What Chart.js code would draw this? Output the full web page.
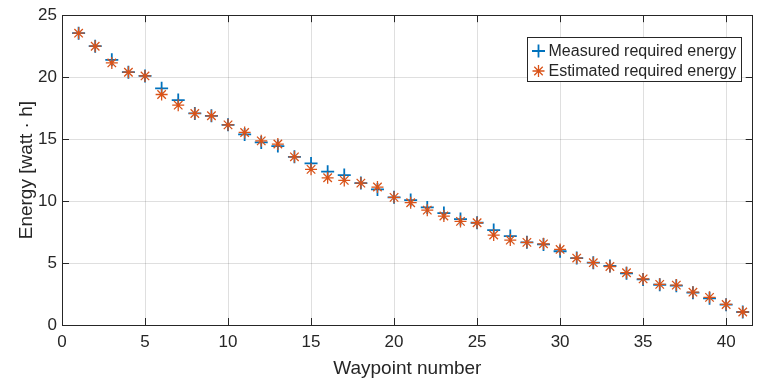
<!DOCTYPE html>
<html>
<head>
<meta charset="utf-8">
<style>
  html, body { margin: 0; padding: 0; background: #ffffff; }
  #wrap { width: 761px; height: 381px; }
</style>
</head>
<body>
<div id="wrap"><canvas id="chart" width="761" height="381"></canvas></div>
<script src="https://cdn.jsdelivr.net/npm/chart.js"></script>
<script>
  // data
  const waypoints = [1, 2, 3, 4, 5, 6, 7, 8, 9, 10, 11, 12, 13, 14, 15, 16, 17, 18, 19, 20,
    21, 22, 23, 24, 25, 26, 27, 28, 29, 30, 31, 32, 33, 34, 35, 36, 37, 38, 39, 40, 41];
  const measured = [23.55, 22.5, 21.4, 20.4, 20.1, 19.1, 18.15, 17.07, 16.88, 16.15,
    15.38, 14.73, 14.44, 13.57, 13.04, 12.37, 12.1, 11.45, 10.94, 10.3,
    10.08, 9.49, 9.03, 8.55, 8.25, 7.66, 7.18, 6.67, 6.5, 5.95,
    5.4, 5.03, 4.76, 4.17, 3.68, 3.25, 3.17, 2.61, 2.15, 1.64, 1.05];
  const estimated = [23.55, 22.5, 21.15, 20.4, 20.1, 18.6, 17.74, 17.07, 16.88, 16.15,
    15.54, 14.86, 14.6, 13.57, 12.56, 11.88, 11.67, 11.45, 11.13, 10.3,
    9.87, 9.27, 8.79, 8.36, 8.25, 7.26, 6.85, 6.67, 6.55, 6.1,
    5.4, 5.03, 4.72, 4.22, 3.72, 3.28, 3.22, 2.65, 2.23, 1.66, 1.05];
  const xTitle = 'Waypoint number';
  const yTitle = 'Energy [watt \u00b7 h]';

  const blue = '#0072BD';
  const orange = '#D95319';
  const axisColor = '#262626';
  const fontFamily = '"Liberation Sans", Arial, Helvetica, sans-serif';

  const toPoints = (ys) => waypoints.map((x, i) => ({ x: x, y: ys[i] }));

  // box around the plot with inward ticks (matlab style) + legend
  const boxPlugin = {
    id: 'box',
    afterDraw(chart) {
      const ctx = chart.ctx;
      const a = chart.chartArea;
      const xs = chart.scales.x;
      const ys = chart.scales.y;
      ctx.save();
      ctx.strokeStyle = axisColor;
      ctx.lineWidth = 1;
      ctx.strokeRect(Math.round(a.left) + 0.5, Math.round(a.top) + 0.5,
        Math.round(a.right - a.left) - 1, Math.round(a.bottom - a.top));
      const tl = 7;
      ctx.beginPath();
      xs.ticks.forEach(t => {
        const px = Math.round(xs.getPixelForValue(t.value)) + 0.5;
        ctx.moveTo(px, a.bottom); ctx.lineTo(px, a.bottom - tl);
        ctx.moveTo(px, a.top); ctx.lineTo(px, a.top + tl);
      });
      ys.ticks.forEach(t => {
        const py = Math.round(ys.getPixelForValue(t.value)) + 0.5;
        ctx.moveTo(a.left, py); ctx.lineTo(a.left + tl, py);
        ctx.moveTo(a.right, py); ctx.lineTo(a.right - tl, py);
      });
      ctx.stroke();

      // legend
      const lx = 527.5, ly = 37.5, lw = 214, lh = 44;
      ctx.fillStyle = '#ffffff';
      ctx.fillRect(lx, ly, lw, lh);
      ctx.strokeRect(lx, ly, lw, lh);
      ctx.font = '16px ' + fontFamily;
      ctx.textBaseline = 'middle';
      ctx.fillStyle = axisColor;
      const sets = chart.data.datasets;
      const rows = [sets[1], sets[0]];
      rows.forEach((ds, i) => {
        const cy = ly + 13.5 + i * 20;
        const cx = lx + 11;
        ctx.strokeStyle = ds.borderColor;
        ctx.lineWidth = ds.borderWidth;
        Chart.helpers.drawPoint(ctx, {
          pointStyle: ds.pointStyle, radius: ds.pointRadius, rotation: 0,
          borderWidth: ds.borderWidth
        }, cx, cy);
        ctx.fillStyle = axisColor;
        ctx.fillText(ds.label, lx + 21, cy + 1);
      });
      ctx.restore();
    }
  };

  const tickFont = { family: fontFamily, size: 17 };
  const titleFont = { family: fontFamily, size: 19 };
  const gridColor = 'rgba(38, 38, 38, 0.15)';

  new Chart(document.getElementById('chart').getContext('2d'), {
    type: 'scatter',
    data: {
      datasets: [
        {
          label: 'Estimated required energy',
          data: toPoints(estimated),
          pointStyle: 'star',
          pointRadius: 6,
          borderColor: orange,
          backgroundColor: orange,
          borderWidth: 1.3,
          order: 0
        },
        {
          label: 'Measured required energy',
          data: toPoints(measured),
          pointStyle: 'cross',
          pointRadius: 6.5,
          borderColor: blue,
          backgroundColor: blue,
          borderWidth: 1.8,
          order: 1
        }
      ]
    },
    options: {
      responsive: false,
      animation: false,
      events: [],
      layout: { padding: { top: 15, right: 2, left: 0, bottom: 0 } },
      plugins: {
        legend: { display: false },
        tooltip: { enabled: false }
      },
      scales: {
        x: {
          type: 'linear',
          min: 0,
          max: 41.6,
          afterFit: (s) => { s.height = 56; },
          border: { display: false },
          grid: { color: gridColor, drawTicks: false },
          ticks: { stepSize: 5, includeBounds: false, color: axisColor, font: tickFont, padding: 7, maxRotation: 0 },
          title: { display: true, text: xTitle, color: axisColor, font: titleFont, padding: { top: 0, bottom: 1 } }
        },
        y: {
          min: 0,
          max: 25,
          afterFit: (s) => { s.width = 62; },
          border: { display: false },
          grid: { color: gridColor, drawTicks: false },
          ticks: { stepSize: 5, color: axisColor, font: tickFont, padding: 5 },
          title: { display: true, text: yTitle, color: axisColor, font: titleFont, padding: { top: 15, bottom: 0 } }
        }
      }
    },
    plugins: [boxPlugin]
  });
</script>
</body>
</html>
